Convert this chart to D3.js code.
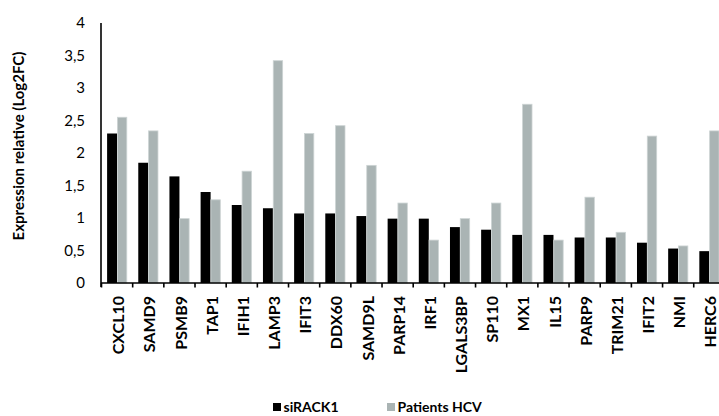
<!DOCTYPE html>
<html>
<head>
<meta charset="utf-8">
<script src="https://cdn.jsdelivr.net/npm/d3@7"></script>
<style>
  html, body { margin: 0; padding: 0; background: #fff; }
  svg { display: block; }
</style>
</head>
<body>
<svg id="chart" width="719" height="416"></svg>
<script>
const categories = ["CXCL10","SAMD9","PSMB9","TAP1","IFIH1","LAMP3","IFIT3","DDX60","SAMD9L","PARP14","IRF1","LGALS3BP","SP110","MX1","IL15","PARP9","TRIM21","IFIT2","NMI","HERC6"];
const siRACK1 = [2.30,1.85,1.64,1.40,1.20,1.15,1.07,1.07,1.03,0.99,0.99,0.86,0.82,0.74,0.74,0.70,0.70,0.62,0.53,0.49];
const patientsHCV = [2.55,2.34,0.99,1.28,1.72,3.42,2.30,2.42,1.81,1.23,0.66,0.99,1.23,2.75,0.66,1.32,0.78,2.26,0.57,2.34];
const yTicks = [0,0.5,1,1.5,2,2.5,3,3.5,4];
const seriesNames = ["siRACK1","Patients HCV"];
const colors = ["#000000","#aab4b4"];

const svg = d3.select("#chart");
const font = "Lato, 'Open Sans', sans-serif";

const x = d3.scaleBand().domain(categories).range([101.5, 101.5 + 20 * 31.17]).paddingInner(0).paddingOuter(0);
const y = d3.scaleLinear().domain([0, 4]).range([283, 23]);

// bars
const barW = 10;
const g = svg.append("g");
g.selectAll("rect.s1").data(categories).join("rect")
  .attr("class", "s1")
  .attr("x", c => x(c) + 5.6)
  .attr("width", barW)
  .attr("y", (c, i) => y(siRACK1[i]))
  .attr("height", (c, i) => y(0) - y(siRACK1[i]))
  .attr("fill", colors[0]);
g.selectAll("rect.s2").data(categories).join("rect")
  .attr("class", "s2")
  .attr("x", c => x(c) + 15.9)
  .attr("width", barW - 0.6)
  .attr("y", (c, i) => y(patientsHCV[i]))
  .attr("height", (c, i) => y(0) - y(patientsHCV[i]))
  .attr("fill", colors[1])
  .attr("stroke", "#cdd4d4")
  .attr("stroke-width", 0.8);

// y axis
const yAxis = d3.axisLeft(y).tickValues(yTicks).tickSize(0).tickPadding(16)
  .tickFormat(d => String(d).replace(".", ","));
const yg = svg.append("g").attr("transform", "translate(101,0)").call(yAxis);
yg.select(".domain").attr("stroke", "#000").attr("stroke-width", 1.6).attr("d", "M0," + y(4) + "V" + (y(0) + 4));
yg.selectAll("text").attr("font-family", font).attr("font-size", 15).attr("fill", "#000");

// x axis
const xAxis = d3.axisBottom(x).tickSize(0).tickPadding(0);
const xg = svg.append("g").attr("transform", "translate(0," + y(0) + ")").call(xAxis);
xg.select(".domain").attr("stroke", "#000").attr("stroke-width", 1.6).attr("d", "M101,0H" + x.range()[1]);
xg.selectAll(".tick text")
  .attr("font-family", font).attr("font-size", 16).attr("font-weight", "bold").attr("fill", "#000")
  .attr("text-anchor", "end")
  .attr("transform", "rotate(-90)")
  .attr("x", -13).attr("y", 1.5).attr("dy", "0.35em");
const boundaries = categories.map(c => x(c)).concat([x.range()[1]]);
xg.selectAll("line.bt").data(boundaries).join("line")
  .attr("class", "bt")
  .attr("x1", d => d).attr("x2", d => d)
  .attr("y1", 0).attr("y2", 4.5)
  .attr("stroke", "#000").attr("stroke-width", 1.6);

// y title
svg.append("text")
  .attr("transform", "translate(19,146) rotate(-90)")
  .attr("text-anchor", "middle").attr("dy", "0.35em")
  .attr("font-family", font).attr("font-size", 15).attr("font-weight", "bold")
  .text("Expression relative (Log2FC)");

// legend
const legX = [273, 387];
const lg = svg.append("g");
seriesNames.forEach((n, i) => {
  lg.append("rect").attr("x", legX[i]).attr("y", 403).attr("width", 8).attr("height", 8).attr("fill", colors[i]);
  lg.append("text").attr("x", legX[i] + 10.5).attr("y", 407).attr("dy", "0.35em")
    .attr("font-family", font).attr("font-size", 14).attr("font-weight", "bold")
    .text(n);
});
</script>
</body>
</html>
